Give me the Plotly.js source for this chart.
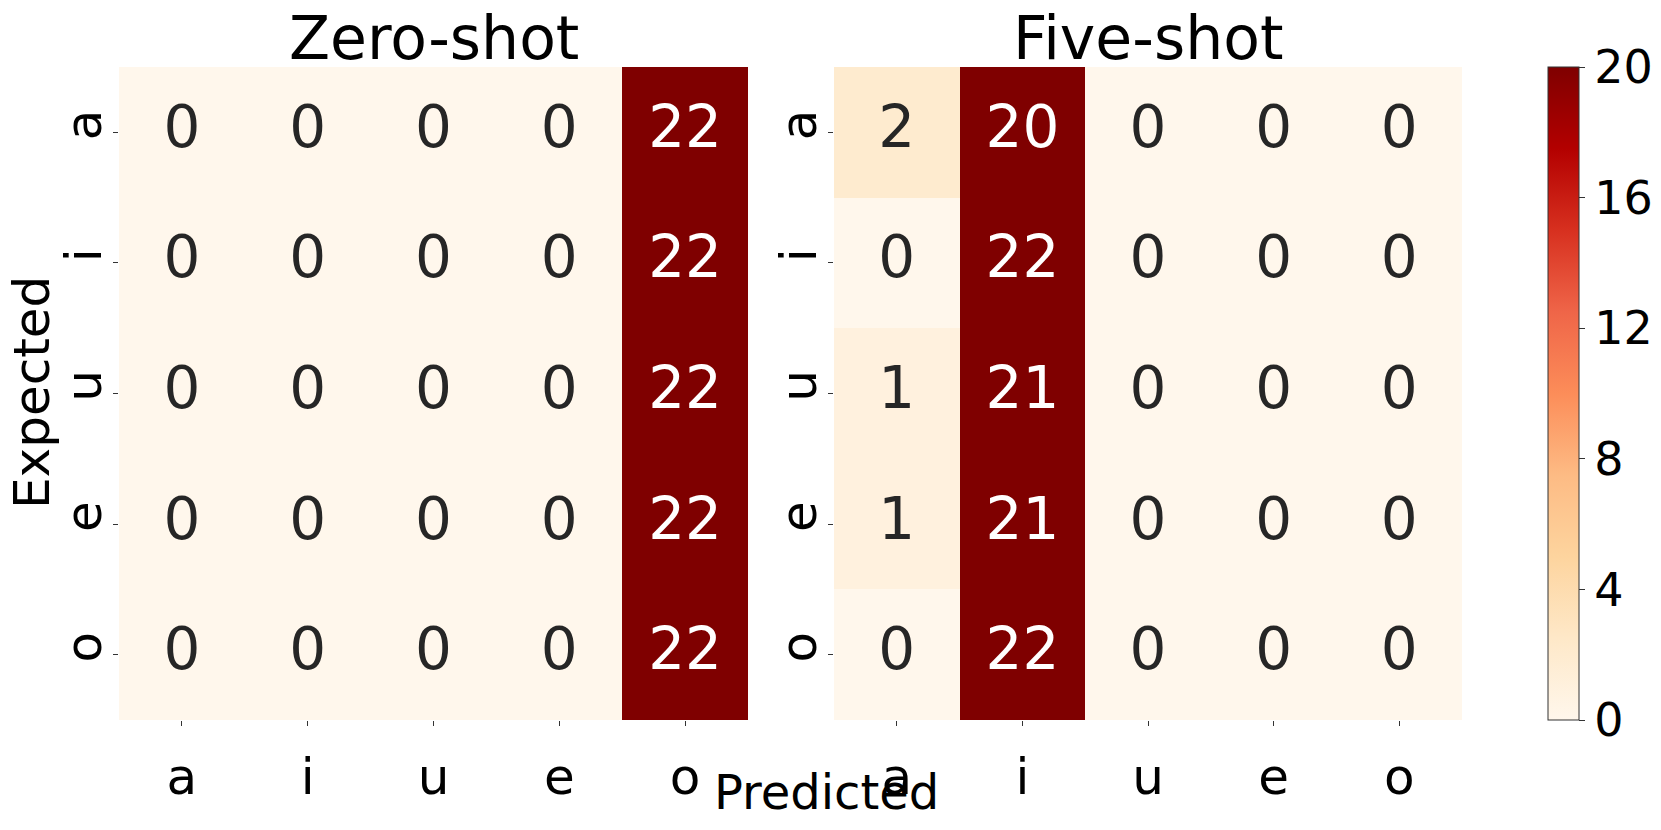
<!DOCTYPE html>
<html>
<head>
<meta charset="utf-8">
<script src="https://cdn.plot.ly/plotly-3.0.1.min.js"></script>
<style>
  html, body {margin: 0; padding: 0; background: #fff;}
  #chart {width: 1661px; height: 830px;}
</style>
</head>
<body>
<div id="chart"></div>
<script>
const vowels = ['a', 'i', 'u', 'e', 'o']
const zeroShot = [
  [0, 0, 0, 0, 22],
  [0, 0, 0, 0, 22],
  [0, 0, 0, 0, 22],
  [0, 0, 0, 0, 22],
  [0, 0, 0, 0, 22]
]
const fiveShot = [
  [2, 20, 0, 0, 0],
  [0, 22, 0, 0, 0],
  [1, 21, 0, 0, 0],
  [1, 21, 0, 0, 0],
  [0, 22, 0, 0, 0]
]
const panelTitles = ['Zero-shot', 'Five-shot']
const cbarTicks = [0, 4, 8, 12, 16, 20]

// matplotlib OrRd
const orRd = [
  [0, '#fff7ec'], [0.125, '#fee8c8'], [0.25, '#fdd49e'], [0.375, '#fdbb84'],
  [0.5, '#fc8d59'], [0.625, '#ef6548'], [0.75, '#d7301f'], [0.875, '#b30000'], [1, '#7f0000']
]
const font = 'DejaVu Sans, sans-serif'

function heat (z, xa, ya, showScale) {
  return {
    type: 'heatmap', z, x: vowels, y: vowels, xaxis: xa, yaxis: ya,
    colorscale: orRd, zmin: 0, zmax: 20, showscale: showScale, hoverinfo: 'skip',
    colorbar: {
      x: 1548 / 1661, xanchor: 'left', xpad: 0, y: 1 - 67 / 830, yanchor: 'top', ypad: 0,
      len: 653, lenmode: 'pixels', thickness: 31, thicknessmode: 'pixels',
      outlinewidth: 1, outlinecolor: '#333',
      tickvals: cbarTicks, ticks: 'outside', ticklen: 6, tickcolor: '#333',
      tickfont: {family: font, size: 46, color: '#000'}
    }
  }
}

function labels (z, xa, ya) {
  const x = [], y = [], text = [], color = []
  z.forEach((row, i) => row.forEach((v, j) => {
    x.push(vowels[j]); y.push(vowels[i]); text.push(String(v))
    color.push(v > 10 ? '#ffffff' : '#262626')
  }))
  return {
    type: 'scatter', mode: 'text', x, y, text, xaxis: xa, yaxis: ya,
    textfont: {family: font, size: 58, color}, hoverinfo: 'skip', showlegend: false
  }
}

const traces = [
  heat(zeroShot, 'x', 'y', false), labels(zeroShot, 'x', 'y'),
  heat(fiveShot, 'x2', 'y2', true), labels(fiveShot, 'x2', 'y2')
]

const axisX = (domain, anchor) => ({
  domain, anchor, type: 'category', range: [-0.5, 4.5], showgrid: false, zeroline: false,
  showline: false, ticks: 'outside', ticklen: 5, tickcolor: '#333', ticklabelstandoff: 8,
  tickfont: {family: font, size: 50, color: '#000'}
})
const axisY = (domain, anchor) => ({
  domain, anchor, type: 'category', range: [4.5, -0.5], showgrid: false, zeroline: false,
  showline: false, ticks: 'outside', ticklen: 5, tickcolor: '#333', tickangle: -90,
  ticklabelstandoff: -8, tickfont: {family: font, size: 50, color: '#000'}
})

const yDom = [1 - 720 / 830, 1 - 67 / 830]
const layout = {
  width: 1661, height: 830,
  margin: {l: 0, r: 0, t: 0, b: 0},
  paper_bgcolor: '#fff', plot_bgcolor: '#fff', showlegend: false,
  xaxis: axisX([119 / 1661, 748 / 1661], 'y'),
  yaxis: axisY(yDom, 'x'),
  xaxis2: axisX([834 / 1661, 1462 / 1661], 'y2'),
  yaxis2: axisY(yDom, 'x2'),
  annotations: [
    {text: panelTitles[0], x: (119 + 748) / 2 / 1661, y: 1 - 38 / 830},
    {text: panelTitles[1], x: (834 + 1462) / 2 / 1661, y: 1 - 38 / 830},
    {text: 'Predicted', x: 826 / 1661, y: 1 - 792 / 830, size: 48},
    {text: 'Expected', x: 32 / 1661, y: 1 - 393 / 830, size: 50, textangle: -90}
  ].map((a) => ({
    text: a.text, x: a.x, y: a.y, xref: 'paper', yref: 'paper',
    xanchor: 'center', yanchor: 'middle', showarrow: false, textangle: a.textangle || 0,
    font: {family: font, size: a.size || 60, color: '#000'}
  }))
}

Plotly.newPlot('chart', traces, layout, {displayModeBar: false, staticPlot: true})
</script>
</body>
</html>
